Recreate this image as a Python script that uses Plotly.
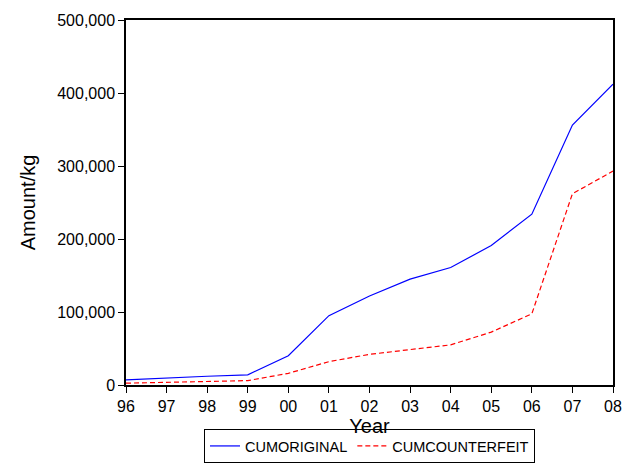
import plotly.graph_objects as go

years = ["96", "97", "98", "99", "00", "01", "02", "03", "04", "05", "06", "07", "08"]
cum_original = [7000, 10000, 12000, 14000, 40000, 95000, 122000, 145000, 161000, 191000, 234000, 356000, 412000]
cum_counterfeit = [2500, 4000, 5000, 6000, 16000, 32000, 42000, 48500, 55000, 72500, 97500, 262000, 293000]

xidx = list(range(len(years)))
font = "Arial, Liberation Sans, sans-serif"

fig = go.Figure()
fig.add_trace(go.Scatter(x=xidx, y=cum_original, mode="lines", name="CUMORIGINAL",
                         line=dict(color="#0000ff", width=1.2)))
fig.add_trace(go.Scatter(x=xidx, y=cum_counterfeit, mode="lines", name="CUMCOUNTERFEIT",
                         line=dict(color="#ff0000", width=1.2, dash="5px,3px")))

fig.update_layout(
    width=622, height=464,
    margin=dict(l=126, r=9, t=20, b=79, autoexpand=False),
    paper_bgcolor="white", plot_bgcolor="white",
    font=dict(family=font, size=16, color="black"),
    showlegend=True,
    legend=dict(orientation="h", x=0.5, xanchor="center", y=-0.2137, yanchor="bottom",
                bordercolor="black", borderwidth=1, font=dict(size=14.5),
                tracegroupgap=0, valign="middle"),
    xaxis=dict(range=[0, 12], tickvals=xidx, ticktext=years, automargin=False,
               ticklabeloverflow="allow",
               showline=True, linecolor="black", linewidth=1.5, mirror=True,
               ticks="outside", ticklen=6, tickcolor="black", showgrid=False, zeroline=False,
               title=dict(text="Year", font=dict(size=20), standoff=1)),
    yaxis=dict(range=[0, 500000], tickvals=[0, 100000, 200000, 300000, 400000, 500000],
               automargin=False,
               tickformat=",", showline=True, linecolor="black", linewidth=1.5, mirror=True,
               ticks="outside", ticklen=6, tickcolor="black", showgrid=False, zeroline=False,
               title=dict(text="Amount/kg", font=dict(size=20), standoff=16)),
)

fig.write_html("out.html", config={"displayModeBar": False},
               post_script="document.body.style.margin='0';document.body.style.overflow='hidden';")
